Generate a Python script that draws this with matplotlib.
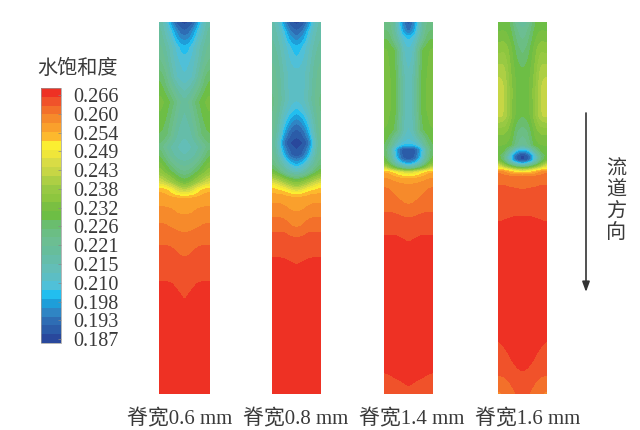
import numpy as np
import matplotlib
matplotlib.use("Agg")
import matplotlib.pyplot as plt
from matplotlib.colors import ListedColormap, BoundaryNorm

SERIF = ['Liberation Serif', 'Noto Sans CJK SC']
CJK = ['Noto Sans CJK SC', 'Liberation Serif']
INK = '#3a3a3a'

title = '水饱和度'
flow_text = '流道方向'
panel_labels = ['脊宽0.6 mm', '脊宽0.8 mm', '脊宽1.4 mm', '脊宽1.6 mm']
cbar_labels = ['0.266', '0.260', '0.254', '0.249', '0.243', '0.238', '0.232',
               '0.226', '0.221', '0.215', '0.210', '0.198', '0.193', '0.187']
band_colors = ['#29489C', '#2B5CA8', '#2E6DB4', '#2F85C4', '#1E9ED9', '#22BEEF', '#50C0D8',
               '#5CBEC4', '#63BEB7', '#65BDA9', '#67BD9B', '#6CBE92', '#6BBE84', '#6ABD6E',
               '#6DBE45', '#7ABF42', '#8DC63F', '#98C943', '#ADCF44', '#C7D645', '#D9DC45',
               '#EFE63A', '#FBEE31', '#FDB92D', '#FAA02C', '#F68A2B', '#F3702A', '#F0522A',
               '#EE3124']

# lateral stations: 0 = channel centre, 1 = channel edge
stations = [0, 0.25, 0.5, 0.75, 1]

# depth along the flow direction
p1_depth = [0, 10, 25, 40, 55, 80, 113, 125, 135, 150, 160, 168, 176, 185, 193, 201, 211, 223, 236, 260, 281, 372]
p1_level = [[0.5, 1, 3.5, 8, 10], [2, 3, 6, 8.5, 11], [5, 6, 8, 10, 11.5], [6.5, 7, 8.5, 11, 12.5],
            [7, 7.5, 9.5, 12.5, 14], [10, 11.5, 13.6, 14.8, 15.6], [9, 9.5, 11.5, 13.5, 14], [8.5, 8.8, 9.5, 11, 13],
            [9, 9.5, 10.5, 12.5, 14.5], [12, 12.5, 14, 15.5, 17], [14.5, 15.5, 17.5, 19, 20.5],
            [19, 20, 22, 23.5, 23.7], [24, 24.1, 24.3, 24.6, 24.7], [24.5, 24.6, 24.9, 25, 25],
            [25, 25.05, 25.3, 25.5, 25.5], [25.45, 25.5, 25.7, 25.95, 26], [26, 26.1, 26.3, 26.4, 26.45],
            [26.5, 26.6, 26.9, 27, 27], [27, 27.15, 27.5, 27.5, 27.5], [27.5, 27.7, 28, 28, 28],
            [28, 28.4, 28.5, 28.5, 28.5], [28.9, 28.9, 28.9, 28.9, 28.9]]

p2_depth = [0, 10, 25, 48, 78, 88, 103, 111, 121, 133, 143, 150, 158, 164, 168, 172, 175, 181, 190, 195, 206, 210, 216, 236, 244, 372]
p2_level = [[0.5, 1, 3.5, 8, 9.5], [2, 3, 6, 8.5, 10], [5, 6, 7.5, 9.5, 10.5], [7, 7.3, 8.5, 10.5, 11.5],
            [7, 7.5, 9, 11, 12.5], [5.5, 6.5, 8, 10.5, 12.5], [2.5, 3.5, 6, 9.5, 12], [1.2, 1.9, 4.5, 9, 12],
            [0.5, 0.8, 2, 8, 11.5], [1.2, 1.9, 5, 9, 12], [5, 6, 8.5, 11, 13.5], [8, 9, 11, 13.5, 15],
            [14, 15, 16.5, 18, 19.5], [17.5, 18.5, 20, 21.5, 22.5], [20, 21, 22.5, 23, 23.5],
            [22.5, 23, 23.8, 24, 24.1], [24, 24.1, 24.3, 24.4, 24.45], [24.4, 24.5, 24.8, 25, 25],
            [25, 25.1, 25.5, 25.6, 25.65], [25.3, 25.4, 25.85, 26, 26], [26, 26.15, 26.7, 26.75, 26.75],
            [26.6, 26.7, 27, 27, 27], [27, 27.1, 27.3, 27.3, 27.25], [27.7, 27.8, 28, 28, 28],
            [28, 28.2, 28.3, 28.3, 28.3], [28.9, 28.9, 28.9, 28.9, 28.9]]

p3_depth = [0, 8, 16, 28, 58, 88, 108, 118, 123, 127, 136, 141, 146, 150, 156, 162, 165, 183, 190, 196, 213, 221, 318, 350, 365, 372]
p3_level = [[1, 3.5, 9, 12, 12.5], [2, 4.5, 9, 12.8, 13], [5.5, 6.5, 10, 13.5, 14], [7, 8, 13.8, 14.8, 15.2],
            [8, 9.5, 14.2, 15, 15.8], [8, 9.5, 14.2, 15, 15.8], [7.5, 9, 13.5, 14.6, 15], [6.5, 7.5, 9.5, 13.2, 14.5],
            [5.5, 5.5, 7.5, 12, 14.5], [1, 1.2, 4.5, 10, 14.5], [1, 1.5, 5.5, 11, 15], [4, 5, 8.5, 13, 16],
            [10, 11, 14, 17, 20], [20, 20.5, 22, 23.5, 24], [23.8, 24, 24.3, 24.8, 25],
            [25, 25.05, 25.2, 25.6, 25.8], [25.2, 25.25, 25.4, 25.9, 26], [26, 26.1, 26.5, 26.6, 26.7],
            [26.5, 26.6, 26.85, 27, 27], [27, 27.1, 27.3, 27.25, 27.25], [27.65, 27.8, 28, 28, 28],
            [28, 28.2, 28.3, 28.3, 28.3], [28.7, 28.7, 28.7, 28.7, 28.7], [28.6, 28.6, 28.5, 28.2, 28],
            [28, 27.7, 27.3, 27.1, 27], [27.6, 27.4, 27.1, 27, 27]]

p4_depth = [0, 8, 28, 48, 68, 93, 108, 123, 128, 133, 138, 141, 144, 148, 150, 154, 163, 168, 194, 200, 318, 335, 353, 372]
p4_level = [[10, 11, 14, 14.5, 14.5], [11, 12, 14.3, 15, 14.8], [12.5, 13.5, 15.5, 17, 16.5], [14, 14.5, 16, 18.5, 18.5],
            [14.5, 14.7, 16.5, 19.2, 20], [14, 14.5, 16.5, 19, 19.5], [12.5, 13, 15.5, 16.5, 16.5], [10.5, 12, 14.5, 15, 15],
            [4.5, 6, 11, 14.5, 14.8], [0.6, 1.5, 6.5, 13, 14.5], [0.6, 1.5, 6.5, 13, 15], [4, 6, 10, 14.5, 18],
            [10, 11.5, 14.5, 17.5, 21], [19, 20, 21.5, 23, 24], [22, 22.5, 23.7, 25.5, 26],
            [26, 26.05, 26.1, 26.2, 26.3], [26.7, 26.8, 26.9, 27, 27], [27, 27.1, 27.1, 27.15, 27.15],
            [28, 28, 27.95, 27.9, 27.75], [28.15, 28.15, 28.1, 28.05, 28], [28.8, 28.7, 28.4, 28.2, 28],
            [28.5, 28.4, 28, 27.7, 27.4], [27.9, 27.7, 27.3, 27.1, 27], [27.4, 27, 26.6, 26, 25.8]]

panels = [(p1_depth, p1_level), (p2_depth, p2_level), (p3_depth, p3_level), (p4_depth, p4_level)]
panel_boxes = [(159, 210), (272, 321), (384, 433), (498, 547)]
label_centres = [179.5, 296, 412, 527.5]
W, H = 640, 430
TOP, BOT = 22, 394

levels = np.arange(0, 30)
cmap = ListedColormap(band_colors)
norm = BoundaryNorm(levels, cmap.N)

fig = plt.figure(figsize=(W / 100, H / 100), dpi=100, facecolor='white')


def px_axes(x0, y0, x1, y1):
    return fig.add_axes([x0 / W, 1 - y1 / H, (x1 - x0) / W, (y1 - y0) / H])


def resample(depth, table):
    """Fine sampling of a read-off table, softened as in the rendered reference."""
    table = np.asarray(table, float)
    full = np.hstack([table[:, :0:-1], table])
    u = np.r_[-np.array(stations[:0:-1]), stations]
    uf = np.linspace(-1, 1, 81)
    yf = np.arange(0, 372.5, 1.0)
    a = np.array([np.interp(uf, u, r) for r in full])
    b = np.array([np.interp(yf, depth, c) for c in a.T]).T
    k = np.array([1, 2, 1]) / 4
    for axis, reps in ((1, 24), (0, 2)):
        for _ in range(reps):
            pad = [(1, 1) if i == axis else (0, 0) for i in range(2)]
            b = np.apply_along_axis(lambda v: np.convolve(v, k, 'valid'), axis, np.pad(b, pad, mode='edge'))
    return uf, yf, b


cs = None
for (depth, table), (x0, x1), label, cx in zip(panels, panel_boxes, panel_labels, label_centres):
    ax = px_axes(x0, TOP, x1, BOT)
    uf, yf, field = resample(depth, table)
    cs = ax.contourf(uf, yf, field, levels=levels, cmap=cmap, norm=norm)
    ax.set_xlim(-1, 1)
    ax.set_ylim(372, 0)
    ax.axis('off')
    fig.text(cx / W, 1 - 419 / H, label, ha='center', va='center',
             family=SERIF, fontsize=15, color=INK)

cax = px_axes(41, 88, 61, 343)
cb = fig.colorbar(cs, cax=cax, spacing='uniform')
cb.ax.minorticks_off()
cb.set_ticks(np.linspace(28.2, 0.45, len(cbar_labels)))
cb.set_ticklabels(cbar_labels)
cb.ax.tick_params(axis='y', length=2, width=0.5, color='#888888', direction='in', pad=9,
                  labelsize=14.5, labelcolor=INK)
for t in cb.ax.get_yticklabels():
    t.set_family(SERIF)
cb.outline.set_linewidth(0.5)
cb.outline.set_edgecolor('#999999')

fig.text(77.5 / W, 1 - 68 / H, title, ha='center', va='center', family=CJK, fontsize=14.5, color=INK)

ann = fig.add_axes([0, 0, 1, 1], facecolor='none')
ann.set_xlim(0, W)
ann.set_ylim(H, 0)
ann.axis('off')
ann.annotate('', xy=(586, 292), xytext=(586, 113),
             arrowprops=dict(arrowstyle='-|>,head_width=0.22,head_length=0.6', lw=1.2,
                             color='#333333', shrinkA=0, shrinkB=0))
for i, ch in enumerate(flow_text):
    ann.text(616, 169 + i * 21, ch, ha='center', va='center', family=CJK, fontsize=14.5, color=INK)

fig.savefig('out.png', dpi=100)
